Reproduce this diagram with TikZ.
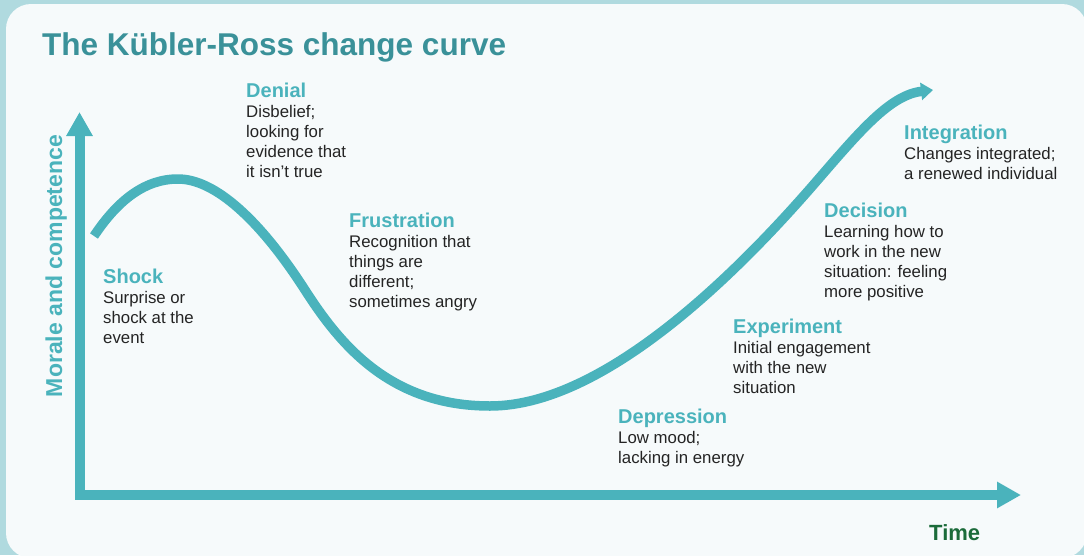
\documentclass[tikz,border=0pt]{standalone}
\usepackage{fontspec}
\setmainfont{Liberation Sans}
\usetikzlibrary{arrows.meta}

\definecolor{kteal}{HTML}{4AB3BC}
\definecolor{ktitle}{HTML}{3A9199}
\definecolor{ktext}{HTML}{242424}
\definecolor{ktime}{HTML}{1B6B3A}
\definecolor{kouter}{HTML}{B0DADF}
\definecolor{kpanel}{HTML}{F6FAFB}

\newcommand{\stagetext}[2]{\parbox[t]{200pt}{\raggedright\leavevmode\fontsize{16.8}{20}\selectfont{\fontsize{20}{20}\selectfont\bfseries\color{kteal}#1}\\#2}}

\tikzset{
  axis/.style={line width=10pt, draw=kteal, line join=miter, {Triangle[width=25pt,length=24pt]}-{Triangle[width=25pt,length=24pt]}},
  curve/.style={line width=9.5pt, draw=kteal, -{Triangle[width=17pt,length=12pt]}},
  stage/.style={anchor=base west, inner sep=0pt, text=ktext},
}

\begin{document}
\begin{tikzpicture}[x=1pt, y=-1pt]

\useasboundingbox (0,0) rectangle (1084,555);
\fill[kouter] (0,0) rectangle (1084,555);
\fill[kpanel, rounded corners=25pt] (6,4) rectangle (1087,558);

\node[anchor=base west, inner sep=0pt, text=ktitle, font=\fontsize{31.5}{36}\selectfont\bfseries] (title) at (42, 55) {The Kübler-Ross change curve};

% axes
\coordinate (ytip) at (79.5, 112);
\coordinate (xtip) at (1021, 495);
\draw[axis] (ytip) |- (xtip);

\node[anchor=base, inner sep=0pt, rotate=90, text=kteal, font=\fontsize{23}{26}\selectfont\bfseries] (ylabel) at (62, 266) {Morale and competence};
\node[anchor=base west, inner sep=0pt, text=ktime, font=\fontsize{22}{26}\selectfont\bfseries] (time) at (929, 540) {Time};

% the curve
\coordinate (cstart) at (94, 236);
\coordinate (peak) at (178, 179);
\coordinate (fall) at (305, 290);
\coordinate (trough) at (490, 406);
\coordinate (rise) at (815, 183);
\coordinate (cend) at (933, 90);
\draw[curve] (cstart) .. controls (118, 200) and (145, 179) .. (peak)
  .. controls (215, 179) and (260, 220) .. (fall)
  .. controls (340, 344.5) and (390, 406) .. (trough)
  .. controls (610, 406) and (750, 258) .. (rise)
  .. controls (860, 131) and (890, 95) .. (cend);

% stages
\node[stage] (shock) at (103, 283) {\stagetext{Shock}{Surprise or\\shock at the\\event}};
\node[stage] (denial) at (246, 97) {\stagetext{Denial}{Disbelief;\\looking for\\evidence that\\it isn’t true}};
\node[stage] (frustration) at (349, 227) {\stagetext{Frustration}{Recognition that\\things are\\different;\\sometimes angry}};
\node[stage] (depression) at (618, 423) {\stagetext{Depression}{Low mood;\\lacking in energy}};
\node[stage] (experiment) at (733, 333) {\stagetext{Experiment}{Initial engagement\\with the new\\situation}};
\node[stage] (decision) at (824, 217) {\stagetext{Decision}{Learning how to\\work in the new\\situation: feeling\\more positive}};
\node[stage] (integration) at (904, 139) {\stagetext{Integration}{Changes integrated;\\a renewed individual}};

\end{tikzpicture}
\end{document}
